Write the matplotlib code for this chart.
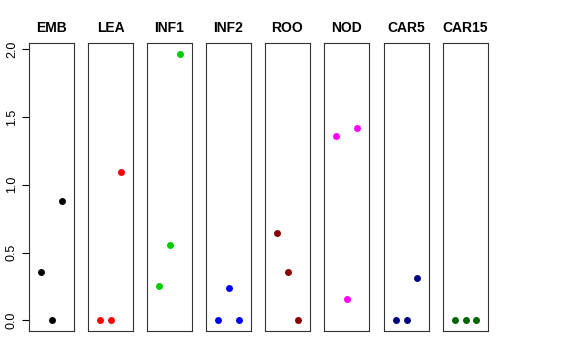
import numpy as np
import matplotlib.pyplot as plt

# tissue panels and their three replicate values
tissues = ["EMB", "LEA", "INF1", "INF2", "ROO", "NOD", "CAR5", "CAR15"]
colors = ["black", "red", "#00CD00", "blue", "#8B0000", "magenta", "#000080", "#006400"]

emb = [0.358, 0.0, 0.882]
lea = [0.0, 0.0, 1.096]
inf1 = [0.252, 0.559, 1.967]
inf2 = [0.0, 0.238, 0.0]
roo = [0.643, 0.353, 0.0]
nod = [1.359, 0.154, 1.418]
car5 = [0.0, 0.0, 0.309]
car15 = [0.0, 0.0, 0.0]

values = [emb, lea, inf1, inf2, roo, nod, car5, car15]
reps = [1, 2, 3]

fig = plt.figure(figsize=(5.76, 3.6), dpi=100)

# R style axis ranges: data range plus 4 percent
ymax = max(max(v) for v in values)
ypad = 0.04 * ymax
xpad = 0.04 * 4

left_px = [29, 88, 147, 206, 265, 324, 384, 443]
w_px = 45
bottom = 1 - 331 / 360
height = (331 - 43) / 360

for i, name in enumerate(tissues):
    ax = fig.add_axes([left_px[i] / 576, bottom, w_px / 576, height])
    ax.plot(reps, values[i], 'o', color=colors[i], markersize=5, markeredgewidth=0)
    ax.set_xlim(0 - xpad, 4 + xpad)
    ax.set_ylim(0 - ypad, ymax + ypad)
    ax.set_xticks([])
    ax.set_title(name, fontsize=10, fontweight='bold', pad=8,
                 family='Liberation Sans')
    for s in ax.spines.values():
        s.set_linewidth(0.8)
        s.set_color('#333333')
    if i == 0:
        ax.set_yticks([0.0, 0.5, 1.0, 1.5, 2.0])
        ax.set_yticklabels(["0.0", "0.5", "1.0", "1.5", "2.0"], rotation=90,
                           va='center', fontsize=9, family='Liberation Sans')
        ax.tick_params(axis='y', length=5, width=0.8, pad=3)
    else:
        ax.set_yticks([])

fig.savefig("out.png", dpi=100)
